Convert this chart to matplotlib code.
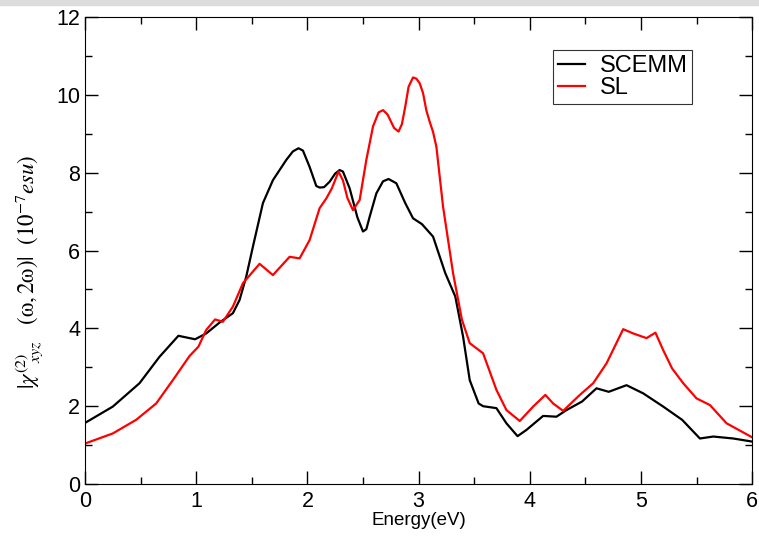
import matplotlib.pyplot as plt
from matplotlib.ticker import MultipleLocator
from matplotlib.patches import Rectangle

# =========================
# Data
# =========================
energy_scemm = [0.0, 0.25, 0.49, 0.67, 0.84, 0.99, 1.09, 1.21, 1.33, 1.39, 1.45, 1.51,
                1.60, 1.69, 1.81, 1.87, 1.92, 1.96, 2.02, 2.08, 2.11, 2.15, 2.20, 2.25,
                2.29, 2.32, 2.38, 2.45, 2.50, 2.53, 2.56, 2.62, 2.68, 2.73, 2.80, 2.88,
                2.95, 3.03, 3.13, 3.24, 3.33, 3.40, 3.46, 3.54, 3.58, 3.70, 3.79, 3.89,
                3.97, 4.12, 4.24, 4.33, 4.47, 4.60, 4.71, 4.87, 5.02, 5.20, 5.37, 5.53,
                5.65, 5.83, 6.0]
chi_scemm = [1.57, 1.99, 2.59, 3.27, 3.81, 3.72, 3.87, 4.15, 4.39, 4.73, 5.33, 6.10,
             7.22, 7.81, 8.33, 8.55, 8.63, 8.57, 8.15, 7.66, 7.62, 7.63, 7.77, 7.98,
             8.07, 8.03, 7.60, 6.85, 6.49, 6.55, 6.87, 7.47, 7.78, 7.84, 7.73, 7.22,
             6.83, 6.68, 6.36, 5.42, 4.82, 3.79, 2.67, 2.07, 2.00, 1.95, 1.56, 1.23,
             1.39, 1.75, 1.73, 1.90, 2.12, 2.46, 2.37, 2.54, 2.33, 1.99, 1.65, 1.17,
             1.22, 1.17, 1.09]

energy_sl = [0.0, 0.25, 0.46, 0.64, 0.79, 0.94, 1.02, 1.09, 1.17, 1.24, 1.33, 1.42,
             1.57, 1.69, 1.84, 1.93, 2.02, 2.11, 2.17, 2.22, 2.28, 2.32, 2.36, 2.41,
             2.47, 2.53, 2.59, 2.64, 2.68, 2.72, 2.78, 2.82, 2.85, 2.88, 2.91, 2.95,
             2.98, 3.01, 3.04, 3.07, 3.10, 3.13, 3.16, 3.22, 3.31, 3.39, 3.46, 3.58,
             3.70, 3.79, 3.91, 4.03, 4.14, 4.21, 4.30, 4.45, 4.57, 4.69, 4.84, 4.93,
             5.05, 5.13, 5.20, 5.28, 5.38, 5.50, 5.62, 5.77, 6.0]
chi_sl = [1.04, 1.30, 1.65, 2.07, 2.67, 3.29, 3.53, 3.96, 4.23, 4.17, 4.56, 5.16,
          5.66, 5.37, 5.84, 5.80, 6.27, 7.09, 7.34, 7.60, 8.03, 7.80, 7.35, 7.04,
          7.30, 8.33, 9.19, 9.55, 9.61, 9.50, 9.15, 9.06, 9.25, 9.70, 10.21, 10.45,
          10.42, 10.30, 10.05, 9.60, 9.31, 9.05, 8.67, 7.13, 5.42, 4.22, 3.62, 3.36,
          2.42, 1.90, 1.62, 1.99, 2.29, 2.07, 1.88, 2.29, 2.59, 3.10, 3.98, 3.87,
          3.75, 3.89, 3.44, 2.97, 2.59, 2.20, 2.03, 1.56, 1.20]

# =========================
# Plot
# =========================
plt.rcParams['font.family'] = ['Liberation Sans', 'DejaVu Sans']
plt.rcParams['mathtext.fontset'] = 'stix'

fig = plt.figure(figsize=(7.59, 5.36), dpi=100)
ax = fig.add_axes([0.112, 0.097, 0.879, 0.871])

# light grey strip at the very top (screenshot border)
fig.patches.append(Rectangle((0, 0.99), 1, 0.01, transform=fig.transFigure,
                             color="#dcdcdc", zorder=0))

ax.plot(energy_scemm, chi_scemm, color="black", lw=1.6, label="SCEMM")
ax.plot(energy_sl, chi_sl, color="red", lw=1.6, label="SL")

ax.set_xlim(0, 6)
ax.set_ylim(0, 12)
ax.xaxis.set_major_locator(MultipleLocator(1))
ax.xaxis.set_minor_locator(MultipleLocator(0.5))
ax.yaxis.set_major_locator(MultipleLocator(2))
ax.yaxis.set_minor_locator(MultipleLocator(1))
ax.tick_params(which="both", direction="in", top=True, right=True, labelsize=15.5)
ax.tick_params(which="major", length=9.5, width=1)
ax.tick_params(which="minor", length=5, width=1)
ax.tick_params(axis="x", pad=5)

ax.set_xlabel("Energy(eV)", fontsize=13.5, labelpad=0)
ax.set_ylabel(r"$|\chi^{(2)}_{\ \ \ xyz}\ \ \ (\mathrm{\omega},2\mathrm{\omega})|\ \ \mathit{(10^{-7}esu)}$",
              fontsize=16.5)
ax.yaxis.set_label_coords(-0.058, 0.455)

leg = ax.legend(loc="upper right", bbox_to_anchor=(0.910, 0.929), fontsize=17,
                frameon=True, fancybox=False, handlelength=1.15, borderpad=0.2,
                labelspacing=0.0, handletextpad=0.6, borderaxespad=0)
leg.get_frame().set_edgecolor("black")
leg.get_frame().set_linewidth(0.8)

plt.savefig("out.png", dpi=100)
plt.close()
